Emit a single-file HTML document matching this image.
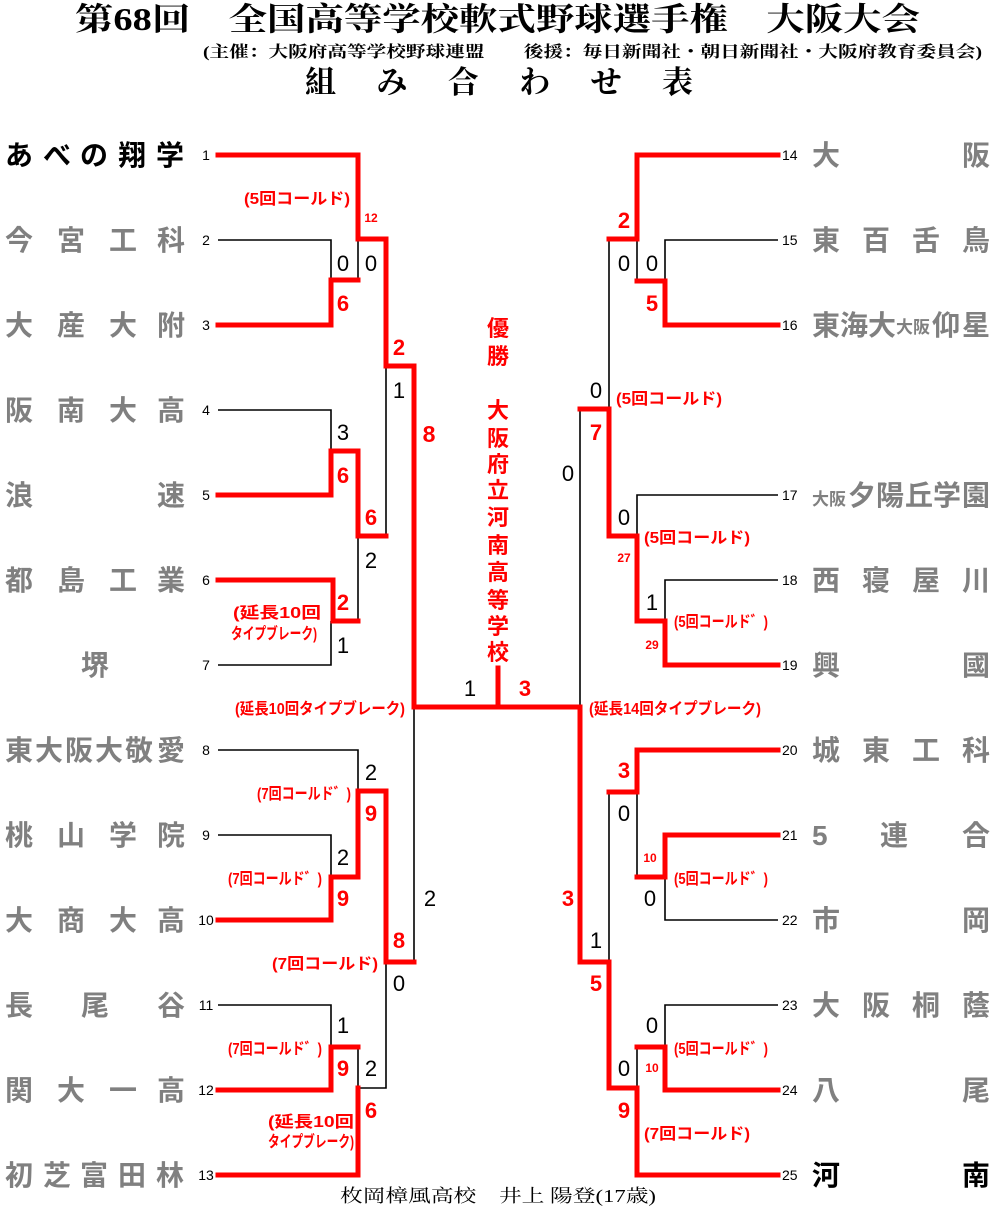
<!DOCTYPE html>
<html><head><meta charset="utf-8"><style>
html,body{margin:0;padding:0;background:#fff;}
svg{display:block}
.n{font-family:"Liberation Sans","Noto Sans CJK JP",sans-serif;font-weight:bold;font-size:28px;fill:#808080}
.k{fill:#000}
.num{font-family:"Liberation Sans",sans-serif;font-size:14px;fill:#000}
.s{font-family:"Liberation Sans",sans-serif;font-weight:bold;font-size:22px;text-anchor:middle}
.sb{fill:#000;font-weight:normal}
.sr{fill:#f00}
.lab{font-family:"Liberation Sans","Noto Sans CJK JP",sans-serif;font-weight:bold;font-size:16px;fill:#f00}
.sm{font-family:"Liberation Sans",sans-serif;font-weight:bold;font-size:12px;fill:#f00;text-anchor:middle}
.r{stroke:#f00;stroke-width:5;fill:none;stroke-linejoin:miter;stroke-linecap:square}
.b{stroke:#000;stroke-width:1.6;fill:none}
</style></head><body>
<svg width="997" height="1217" viewBox="0 0 997 1217" xmlns="http://www.w3.org/2000/svg">
<text x="75" y="30" textLength="845" lengthAdjust="spacingAndGlyphs" style="font-family:'Liberation Serif','Noto Serif CJK SC',serif;font-weight:bold;font-size:32px">第68回　全国高等学校軟式野球選手権　大阪大会</text>
<text x="203" y="57" textLength="779" lengthAdjust="spacingAndGlyphs" style="font-family:'Liberation Serif','Noto Serif CJK SC',serif;font-weight:bold;font-size:16px">(主催：大阪府高等学校野球連盟　　後援：毎日新聞社・朝日新聞社・大阪府教育委員会)</text>
<text x="305" y="93" textLength="388" lengthAdjust="spacing" style="font-family:'Liberation Serif','Noto Serif CJK SC',serif;font-weight:bold;font-size:31px">組　み　合　わ　せ　表</text>
<text x="340" y="1202" textLength="316" lengthAdjust="spacingAndGlyphs" style="font-family:'Liberation Serif','Noto Serif CJK SC',serif;font-size:18px">枚岡樟風高校　井上 陽登(17歳)</text>

<g class="n">
<text class="n k" y="165" x="5 43 80 118 156">あべの翔学</text>
<text y="250" x="5 57 109 157">今宮工科</text>
<text y="335" x="5 57 109 157">大産大附</text>
<text y="420" x="5 57 109 157">阪南大高</text>
<text y="505" x="5 157">浪速</text>
<text y="590" x="5 57 109 157">都島工業</text>
<text y="675" x="81">堺</text>
<text y="760" x="5 35 65 95 125 157">東大阪大敬愛</text>
<text y="845" x="5 57 109 157">桃山学院</text>
<text y="930" x="5 57 109 157">大商大高</text>
<text y="1015" x="5 81 157">長尾谷</text>
<text y="1100" x="5 57 109 157">関大一高</text>
<text y="1185" x="5 43 80 118 156">初芝富田林</text>
</g>
<g class="n">
<text y="165" x="812 962">大阪</text>
<text y="250" x="812 862 912 962">東百舌鳥</text>
<text y="335" x="812 840 868">東海大</text><text y="333" x="896" style="font-size:17px">大阪</text><text y="335" x="932 962">仰星</text>
<text y="505" x="812" style="font-size:17px">大阪</text><text y="505" x="848 876 905 933 962">夕陽丘学園</text>
<text y="590" x="812 862 912 962">西寝屋川</text>
<text y="675" x="812 962">興國</text>
<text y="760" x="812 862 912 962">城東工科</text>
<text y="845" x="812 880 962">5連合</text>
<text y="930" x="812 962">市岡</text>
<text y="1015" x="812 862 912 962">大阪桐蔭</text>
<text y="1100" x="812 962">八尾</text>
<text class="n k" y="1185" x="812 962">河南</text>
</g>
<g class="num" text-anchor="middle">
<text x="206" y="160">1</text><text x="206" y="245">2</text><text x="206" y="330">3</text><text x="206" y="415">4</text><text x="206" y="500">5</text><text x="206" y="585">6</text><text x="206" y="670">7</text><text x="206" y="755">8</text><text x="206" y="840">9</text><text x="206" y="925">10</text><text x="206" y="1010">11</text><text x="206" y="1095">12</text><text x="206" y="1180">13</text>
</g>
<g class="num">
<text x="782" y="160">14</text><text x="782" y="245">15</text><text x="782" y="330">16</text><text x="782" y="500">17</text><text x="782" y="585">18</text><text x="782" y="670">19</text><text x="782" y="755">20</text><text x="782" y="840">21</text><text x="782" y="925">22</text><text x="782" y="1010">23</text><text x="782" y="1095">24</text><text x="782" y="1180">25</text>
</g>

<g class="b">
<polyline points="218,240 331,240 331,280"/>
<polyline points="358,280 358,239"/>
<polyline points="218,410 331,410 331,451"/>
<polyline points="386,536 386,366"/>
<polyline points="358,621 358,536"/>
<polyline points="218,665 331,665 331,621"/>
<polyline points="218,750 358,750 358,791"/>
<polyline points="218,835 331,835 331,877"/>
<polyline points="414,962 414,707"/>
<polyline points="218,1005 331,1005 331,1047"/>
<polyline points="358,1047 358,1088 386,1088 386,962"/>
</g>
<g class="r">
<polyline points="218,155 358,155 358,239 386,239 386,366 414,366 414,707 580,707"/>
<polyline points="218,325 331,325 331,280 358,280"/>
<polyline points="218,495 331,495 331,451 358,451 358,536 386,536"/>
<polyline points="218,580 333,580 333,621 358,621"/>
<polyline points="218,920 331,920 331,877 358,877 358,791 386,791 386,962 414,962"/>
<polyline points="218,1090 331,1090 331,1047 358,1047"/>
<polyline points="218,1175 358,1175 358,1088"/>
<polyline points="498,707 498,668"/>
</g>
<g class="b">
<polyline points="609,239 609,409"/>
<polyline points="778,240 665,240 665,281"/>
<polyline points="637,281 637,239"/>
<polyline points="580,409 580,707"/>
<polyline points="778,495 637,495 637,536"/>
<polyline points="778,580 665,580 665,621"/>
<polyline points="609,792 609,962"/>
<polyline points="637,877 637,792"/>
<polyline points="778,920 665,920 665,877"/>
<polyline points="778,1005 665,1005 665,1047"/>
<polyline points="637,1047 637,1088"/>
</g>
<g class="r">
<polyline points="778,155 637,155 637,239 609,239"/>
<polyline points="778,325 665,325 665,281 637,281"/>
<polyline points="580,409 609,409 609,536 637,536 637,621 665,621 665,665 778,665"/>
<polyline points="580,707 580,962 609,962 609,1088 637,1088 637,1175 778,1175"/>
<polyline points="778,750 637,750 637,792 609,792"/>
<polyline points="778,835 665,835 665,877 637,877"/>
<polyline points="778,1090 665,1090 665,1047 637,1047"/>
</g>

<g class="s">
<text class="s sb" x="343" y="271">0</text><text class="s sb" x="371" y="271">0</text>
<text class="s sr" x="343" y="311">6</text>
<text class="s sr" x="399" y="355">2</text>
<text class="s sb" x="399" y="398">1</text>
<text class="s sr" x="429" y="442" style="font-size:23px">8</text>
<text class="s sb" x="343" y="440">3</text>
<text class="s sr" x="343" y="483">6</text>
<text class="s sr" x="371" y="525">6</text>
<text class="s sb" x="371" y="568">2</text>
<text class="s sr" x="343" y="610">2</text>
<text class="s sb" x="343" y="653">1</text>
<text class="s sb" x="470" y="696">1</text>
<text class="s sr" x="525" y="696">3</text>
<text class="s sb" x="371" y="780">2</text>
<text class="s sr" x="371" y="821">9</text>
<text class="s sb" x="343" y="865">2</text>
<text class="s sr" x="343" y="906">9</text>
<text class="s sr" x="399" y="948">8</text>
<text class="s sb" x="399" y="991">0</text>
<text class="s sb" x="430" y="906">2</text>
<text class="s sb" x="343" y="1033">1</text>
<text class="s sr" x="343" y="1076">9</text>
<text class="s sb" x="371" y="1076">2</text>
<text class="s sr" x="371" y="1118">6</text>
</g>
<g class="s">
<text class="s sr" x="624" y="228">2</text>
<text class="s sb" x="624" y="271">0</text><text class="s sb" x="652" y="271">0</text>
<text class="s sr" x="652" y="311">5</text>
<text class="s sb" x="596" y="398">0</text>
<text class="s sr" x="596" y="440">7</text>
<text class="s sb" x="568" y="481">0</text>
<text class="s sb" x="624" y="525">0</text>
<text class="s sb" x="652" y="610">1</text>
<text class="s sr" x="624" y="778">3</text>
<text class="s sb" x="624" y="821">0</text>
<text class="s sb" x="650" y="906">0</text>
<text class="s sr" x="568" y="906">3</text>
<text class="s sb" x="596" y="948">1</text>
<text class="s sr" x="596" y="991">5</text>
<text class="s sb" x="652" y="1033">0</text>
<text class="s sb" x="624" y="1076">0</text>
<text class="s sr" x="624" y="1118">9</text>
</g>
<text class="sm" x="371" y="222">12</text>
<text class="sm" x="624" y="562">27</text>
<text class="sm" x="652" y="649">29</text>
<text class="sm" x="650" y="862">10</text>
<text class="sm" x="652" y="1072">10</text>

<g class="lab" lengthAdjust="spacingAndGlyphs">
<text x="244" y="204" textLength="106" lengthAdjust="spacingAndGlyphs">(5回コールド)</text>
<text x="233" y="618" textLength="88" lengthAdjust="spacingAndGlyphs">(延長10回</text>
<text x="231" y="639" textLength="86" lengthAdjust="spacingAndGlyphs">タイプブレーク)</text>
<text x="235" y="714" textLength="170" lengthAdjust="spacingAndGlyphs">(延長10回タイプブレーク)</text>
<text x="257" y="799" textLength="94" lengthAdjust="spacingAndGlyphs">(7回コールド゛)</text>
<text x="228" y="884" textLength="94" lengthAdjust="spacingAndGlyphs">(7回コールド゛)</text>
<text x="272" y="969" textLength="106" lengthAdjust="spacingAndGlyphs">(7回コールド)</text>
<text x="228" y="1054" textLength="94" lengthAdjust="spacingAndGlyphs">(7回コールド゛)</text>
<text x="268" y="1127" textLength="86" lengthAdjust="spacingAndGlyphs">(延長10回</text>
<text x="268" y="1147" textLength="86" lengthAdjust="spacingAndGlyphs">タイプブレーク)</text>
<text x="616" y="404" textLength="106" lengthAdjust="spacingAndGlyphs">(5回コールド)</text>
<text x="644" y="543" textLength="106" lengthAdjust="spacingAndGlyphs">(5回コールド)</text>
<text x="674" y="627" textLength="94" lengthAdjust="spacingAndGlyphs">(5回コールド゛)</text>
<text x="589" y="714" textLength="172" lengthAdjust="spacingAndGlyphs">(延長14回タイプブレーク)</text>
<text x="674" y="884" textLength="94" lengthAdjust="spacingAndGlyphs">(5回コールド゛)</text>
<text x="674" y="1054" textLength="94" lengthAdjust="spacingAndGlyphs">(5回コールド゛)</text>
<text x="644" y="1139" textLength="106" lengthAdjust="spacingAndGlyphs">(7回コールド)</text>
</g>
<g style="font-family:'Liberation Sans','Noto Sans CJK JP',sans-serif;font-weight:bold;font-size:22px;fill:#f00" text-anchor="middle">
<text x="498" y="336">優</text><text x="498" y="364">勝</text>
<text x="498" y="418">大</text><text x="498" y="446">阪</text><text x="498" y="472">府</text><text x="498" y="498">立</text><text x="498" y="525">河</text><text x="498" y="553">南</text><text x="498" y="580">高</text><text x="498" y="608">等</text><text x="498" y="634">学</text><text x="498" y="660">校</text>
</g>
</svg>
</body></html>
